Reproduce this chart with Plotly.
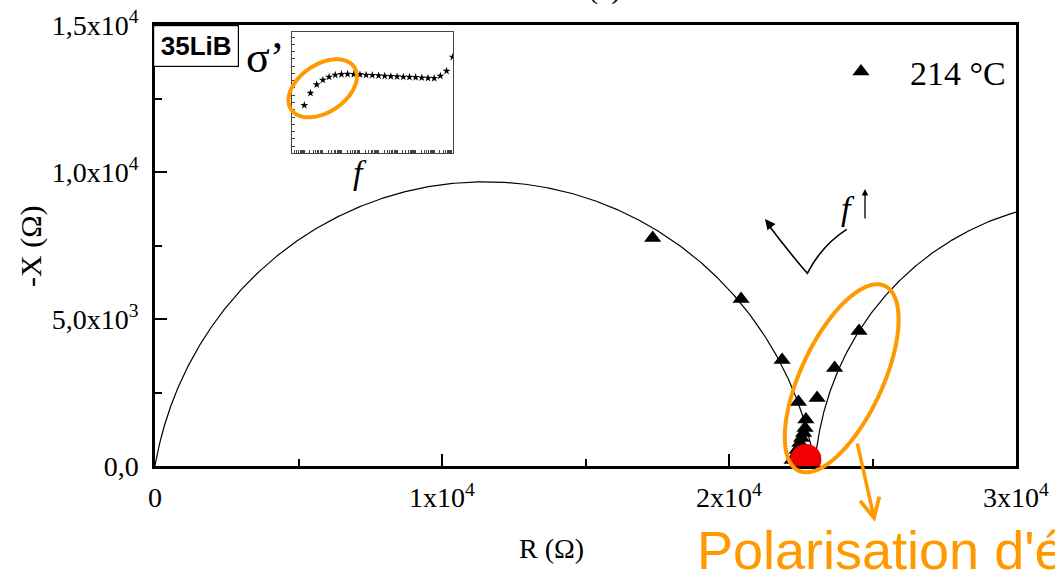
import numpy as np
import plotly.graph_objects as go

# ---- Nyquist data, 35LiB glass at 214 °C ----
r_ohm = [17340, 20420, 21850, 22420, 22680, 22650, 22600, 22530, 22470, 22370, 22200,
         23070, 23680, 24530]
x_ohm = [7755, 5680, 3605, 2177, 1582, 1293, 1122, 952, 782, 544, 204,
         2313, 3333, 4592]
series_name = "214 °C"

# highlighted electrode-polarisation onset
pol_r = [22680]
pol_x = [221]

# equivalent-circuit fit: two ZARC elements (R || CPE) in series
zarc_r = [23000, 19300]      # ohm
zarc_n = [0.89, 0.956]
zarc_tau = [1e-6, 1e-1]      # s

# inset: real conductivity versus frequency (arbitrary units)
inset_f = [1e-1, 2.15e-1, 4.64e-1, 1e0, 2.15e0, 4.64e0, 1e1, 2.15e1, 4.64e1, 1e2,
           2.15e2, 4.64e2, 1e3, 2.15e3, 4.64e3, 1e4, 2.15e4, 4.64e4, 1e5, 2.15e5,
           4.64e5, 1e6, 2.15e6, 4.64e6, 1e7]
inset_sigma = [3.97, 4.98, 5.68, 6.06, 6.31, 6.47, 6.53, 6.55, 6.53, 6.50,
               6.47, 6.45, 6.42, 6.39, 6.36, 6.34, 6.31, 6.30, 6.28, 6.25,
               6.22, 6.20, 6.39, 6.80, 7.96]

x_tickvals = [0, 10000, 20000, 30000]
x_ticktext = ["0", "1x10<sup>4</sup>", "2x10<sup>4</sup>", "3x10<sup>4</sup>"]
y_tickvals = [0, 5000, 10000, 15000]
y_ticktext = ["0,0", "5,0x10<sup>3</sup>", "1,0x10<sup>4</sup>", "1,5x10<sup>4</sup>"]

# ---- fit curve ----
omega = np.logspace(-3, 10, 4000)
z = np.zeros_like(omega, dtype=complex)
for R, n, tau in zip(zarc_r, zarc_n, zarc_tau):
    z += R / (1 + (1j * omega * tau) ** n)
fit_re, fit_im = z.real, -z.imag

# ---- page geometry (pixels) ----
W, H = 1055, 574
ML, MR, MT, MB = 155, 39, 25, 108
PW, PH = W - ML - MR, H - MT - MB


def paper(px, py):
    return (px - ML) / PW, (H - MB - py) / PH


def ellipse_path(cx, cy, a, b, deg, n=120):
    th = np.radians(deg)
    t = np.linspace(0, 2 * np.pi, n)
    xs = cx + a * np.cos(t) * np.cos(th) + b * np.sin(t) * np.sin(th)
    ys = cy - a * np.cos(t) * np.sin(th) + b * np.sin(t) * np.cos(th)
    pts = [paper(x, y) for x, y in zip(xs, ys)]
    return "M " + " L ".join(f"{x:.5f},{y:.5f}" for x, y in pts) + " Z"


SERIF = "Liberation Serif"
SANS = "Liberation Sans"
ORANGE = "#FF9900"

fig = go.Figure()

fig.add_trace(go.Scatter(x=fit_re, y=fit_im, mode="lines",
                         line=dict(color="black", width=1.2), showlegend=False,
                         hoverinfo="skip"))
fig.add_trace(go.Scatter(x=r_ohm, y=x_ohm, mode="markers", name=series_name,
                         marker=dict(symbol="triangle-up", size=15, color="black")))
fig.add_trace(go.Scatter(x=pol_r, y=pol_x, mode="markers", showlegend=False,
                         marker=dict(symbol="circle", size=31, color="#F00000")))

# inset
fig.add_trace(go.Scatter(x=inset_f, y=inset_sigma, mode="markers", xaxis="x2", yaxis="y2",
                         showlegend=False,
                         marker=dict(symbol="star", size=6, color="black")))

ix0, iy0 = paper(291.7, 153.3)
ix1, iy1 = paper(453.3, 32.3)

axis_common = dict(showgrid=False, zeroline=False, showline=True, mirror=True,
                   linecolor="black", linewidth=2.5, ticks="inside", ticklen=12,
                   tickwidth=2, tickcolor="black",
                   tickfont=dict(family=SERIF, size=28, color="black"))

fig.update_layout(
    width=W, height=H,
    margin=dict(l=ML, r=MR, t=MT, b=MB, autoexpand=False),
    paper_bgcolor="white", plot_bgcolor="white",
    xaxis=dict(range=[0, 30000], tickmode="array", tickvals=x_tickvals, ticktext=x_ticktext,
               minor=dict(tickvals=[5000, 15000, 25000], ticks="inside", ticklen=7,
                          tickwidth=2, tickcolor="black"),
               ticklabelstandoff=5, **axis_common),
    yaxis=dict(range=[0, 15000], tickmode="array", tickvals=y_tickvals, ticktext=y_ticktext,
               minor=dict(tickvals=[2500, 7500, 12500], ticks="inside", ticklen=7,
                          tickwidth=2, tickcolor="black"),
               ticklabelstandoff=8, **axis_common),
    xaxis2=dict(type="log", domain=[ix0, ix1], anchor="y2", range=[-1.68, 7.03],
                dtick="D1", showticklabels=False, showgrid=False, zeroline=False,
                showline=True, mirror=True, linecolor="#444", linewidth=1.2,
                ticks="inside", ticklen=3, tickwidth=0.8, tickcolor="#444"),
    yaxis2=dict(domain=[iy0, iy1], anchor="x2", range=[0, 10], dtick=0.6,
                showticklabels=False, showgrid=False, zeroline=False,
                showline=True, mirror=True, linecolor="#444", linewidth=1.2,
                ticks="inside", ticklen=3, tickwidth=0.8, tickcolor="#444"),
    legend=dict(x=paper(812, 0)[0], y=paper(0, 43)[1], xanchor="left", yanchor="top",
                itemwidth=88, bgcolor="rgba(0,0,0,0)", borderwidth=0,
                font=dict(family=SERIF, size=34, color="black")),
    showlegend=True,
)

shapes = []
# highlight around the polarisation points and around the inset low-frequency points
shapes.append(dict(type="path", xref="paper", yref="paper", layer="above",
                   path=ellipse_path(841.7, 378.3, 102, 41, 65),
                   line=dict(color=ORANGE, width=4)))
shapes.append(dict(type="path", xref="paper", yref="paper", layer="above",
                   path=ellipse_path(322.7, 88.3, 38, 23.8, 34),
                   line=dict(color=ORANGE, width=4)))
# frequency direction sketch
p_a, p_b, p_c = paper(846.7, 229.3), paper(807.3, 273.3), paper(767, 223)
q1, q2 = paper(822, 245), paper(788, 251)
shapes.append(dict(type="path", xref="paper", yref="paper", layer="above",
                   path=(f"M {p_a[0]:.5f},{p_a[1]:.5f} Q {q1[0]:.5f},{q1[1]:.5f} "
                         f"{p_b[0]:.5f},{p_b[1]:.5f} Q {q2[0]:.5f},{q2[1]:.5f} "
                         f"{p_c[0]:.5f},{p_c[1]:.5f}"),
                   line=dict(color="black", width=1.6)))
fig.update_layout(shapes=shapes)

ann = []


def text_at(px, py, text, size, family=SERIF, color="black", xanchor="center",
            yanchor="middle", **kw):
    x, y = paper(px, py)
    d = dict(x=x, y=y, xref="paper", yref="paper", text=text, showarrow=False,
             xanchor=xanchor, yanchor=yanchor,
             font=dict(family=family, size=size, color=color))
    d.update(kw)
    ann.append(d)


# sample label box
bx, by = paper(153, 25)
ann.append(dict(x=bx, y=by, xref="paper", yref="paper", xanchor="left", yanchor="top",
                text="<b>35LiB</b>", showarrow=False, width=78, height=34, borderpad=3,
                bordercolor="black", borderwidth=1.2, bgcolor="white",
                font=dict(family=SANS, size=26, color="black")))
text_at(265, 58, "σ’", 44)
text_at(360, 172, "<i>f</i>", 34)
text_at(551, 548, "R (Ω)", 28)
text_at(31, 246, "-X (Ω)", 30, textangle=-90)
text_at(848, 208, "<i>f</i>", 34)
text_at(604, -12, "(a)", 30)
text_at(695, 550, "Polarisation d'é", 54, family=SANS, color=ORANGE, xanchor="left")

# arrows
tip = paper(865, 189)
ann.append(dict(x=tip[0], y=tip[1], xref="paper", yref="paper", text="", showarrow=True,
                ax=0, ay=31, arrowhead=2, arrowsize=1, arrowwidth=1.3, arrowcolor="black"))
tip = paper(765, 219)
ann.append(dict(x=tip[0], y=tip[1], xref="paper", yref="paper", text="", showarrow=True,
                ax=4, ay=5, arrowhead=2, arrowsize=1.3, arrowwidth=1.6, arrowcolor="black",
                standoff=0))
tip = paper(875, 522)
ann.append(dict(x=tip[0], y=tip[1], xref="paper", yref="paper", text="", showarrow=True,
                ax=-18, ay=-80, arrowhead=5, arrowsize=1.1, arrowwidth=3.5,
                arrowcolor=ORANGE))
fig.update_layout(annotations=ann)

fig.write_html("out.html")
